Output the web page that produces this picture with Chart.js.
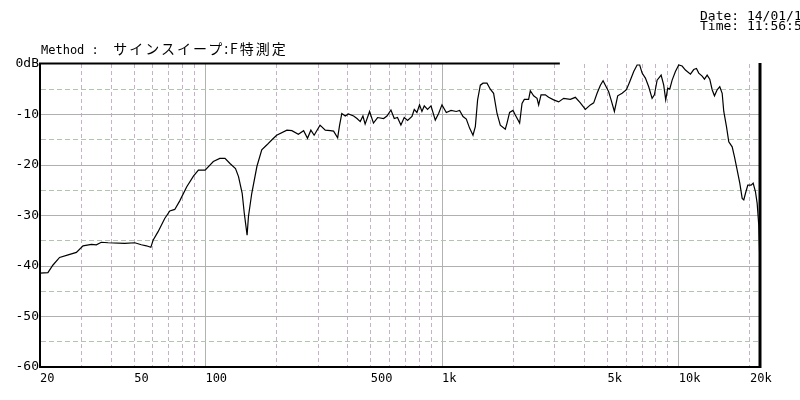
<!DOCTYPE html>
<html>
<head>
<meta charset="utf-8">
<script src="https://cdn.jsdelivr.net/npm/chart.js@4.4.1/dist/chart.umd.min.js"></script>
<style>
  html, body { margin: 0; padding: 0; background: #fff; }
  #wrap { position: relative; width: 800px; height: 400px; overflow: hidden; }
  #c { position: absolute; left: 0; top: 0; }
  .txt { position: absolute; white-space: pre; color: #000; font-family: 'DejaVu Sans Mono', monospace; }
  .cjk { font-family: 'Noto Sans CJK JP', sans-serif; font-size: 14px; letter-spacing: 2px; }
</style>
</head>
<body>
<div id="wrap">
  <canvas id="c" width="800" height="400"></canvas>
  <div class="txt" style="left:41px; top:38px; font-size:12px;">Method :  <span class="cjk">サインスイープ:F特測定</span></div>
  <div class="txt" style="left:700px; top:11px; font-size:13px; line-height:10px;">Date: 14/01/1
Time: 11:56:5</div>
</div>
<script>
// ---- data (frequency in Hz, level in dB) ----
const freqHz = [
  20, 21.6, 22.7, 24.2, 26.3, 28.5, 30.4, 33.0, 34.6, 36.3, 38.8, 45.6, 50.3, 53.6, 56.3, 58.8,
  60.1, 63.1, 67.3, 70.7, 74.2, 77.9, 83.4, 89.0, 93.4, 99.7, 108, 115, 121, 127, 134, 138,
  143, 146, 150, 152, 157, 165, 173, 182, 191, 200, 221, 232, 247, 260, 270, 279, 288, 305,
  321, 337, 348, 362, 369, 377, 390, 402, 423, 437, 451, 463, 473, 494, 513, 534, 566, 585,
  608, 628, 648, 670, 692, 715, 746, 763, 783, 803, 822, 841, 868, 898, 936, 967, 999, 1042,
  1091, 1148, 1186, 1226, 1266, 1307, 1351, 1382, 1413, 1451, 1489, 1548, 1599, 1651, 1707, 1762,
  1850, 1881, 1929, 1994, 2039, 2127, 2177, 2226, 2321, 2360, 2437, 2519, 2559, 2619, 2731, 2820,
  2961, 3109, 3264, 3484, 3657, 3840, 4031, 4232, 4372, 4518, 4666, 4790, 4898, 5058, 5178, 5347,
  5522, 5764, 6012, 6208, 6454, 6670, 6841, 7003, 7231, 7467, 7718, 7893, 8103, 8425, 8641, 8811,
  8985, 9162, 9379, 9684, 10000, 10337, 10674, 11208, 11574, 11882, 12151, 12560, 12844, 13186, 13524, 13844,
  14158, 14535, 14908, 15260, 15500, 15913, 16274, 16822, 17202, 17661, 18114, 18542, 18834, 19148, 19580, 20234,
  20632, 21099, 21451, 21788, 22050
];
const levelDb = [
  -41.4, -41.3, -39.8, -38.3, -37.8, -37.3, -36.0, -35.7, -35.8, -35.3, -35.4, -35.5, -35.4, -35.8, -36.0, -36.3,
  -34.9, -33.2, -30.6, -29.1, -28.8, -27.1, -24.3, -22.2, -21.0, -21.0, -19.3, -18.7, -18.7, -19.7, -20.7, -22.3,
  -25.6, -29.6, -33.9, -30.2, -25.6, -20.3, -17.0, -16.0, -15.0, -14.1, -13.1, -13.2, -13.9, -13.2, -14.7, -13.1, -14.1, -12.1,
  -13.1, -13.2, -13.3, -14.6, -12.1, -9.8, -10.3, -9.9, -10.3, -10.8, -11.4, -10.3, -11.9, -9.4, -11.7, -10.6, -10.8, -10.3,
  -9.1, -10.8, -10.6, -12.1, -10.6, -11.2, -10.4, -9.0, -9.6, -8.1, -9.4, -8.3, -9.0, -8.3, -11.1, -9.8, -8.1, -9.6,
  -9.2, -9.4, -9.2, -10.4, -10.9, -12.7, -14.1, -12.4, -7.1, -4.2, -3.8, -3.8, -5.0, -5.8, -9.8, -12.1,
  -12.9, -11.7, -9.6, -9.2, -10.1, -11.7, -7.8, -7.0, -7.0, -5.3, -6.3, -6.8, -8.1, -6.1, -6.1, -6.6,
  -7.1, -7.5, -6.8, -7.0, -6.6, -7.7, -9.0, -8.1, -7.7, -5.8, -4.2, -3.3, -4.2, -5.5, -7.1, -9.4,
  -6.3, -5.8, -5.1, -3.5, -1.5, -0.2, -0.2, -1.8, -2.8, -4.5, -6.8, -6.1, -3.2, -2.2, -4.2, -7.1,
  -4.8, -5.0, -3.2, -1.5, -0.2, -0.4, -1.2, -2.0, -1.1, -0.9, -1.8, -2.4, -3.0, -2.2, -3.0, -5.1,
  -6.3, -5.1, -4.5, -5.8, -9.4, -12.4, -15.4, -16.4, -18.4, -21.0, -23.6, -26.6, -26.9, -25.6, -24.0, -24.0,
  -23.6, -25.3, -27.6, -31.9, -40.1
];
const xTickValues = [20, 30, 40, 50, 60, 70, 80, 90, 100, 200, 300, 400, 500, 600, 700, 800, 900,
  1000, 2000, 3000, 4000, 5000, 6000, 7000, 8000, 9000, 10000, 20000];
const xLabelValues = [20, 50, 100, 500, 1000, 5000, 10000, 20000];
const xLabelTexts = ['20', '50', '100', '500', '1k', '5k', '10k', '20k'];
const xMajorGrid = [100, 1000, 10000];
const yLabelValues = [0, -10, -20, -30, -40, -50, -60];
const yLabelTexts = ['0dB', '-10', '-20', '-30', '-40', '-50', '-60'];
const xMin = 20, xMax = 22050, yMin = -60, yMax = 0;

const points = freqHz.map((f, i) => ({ x: f, y: levelDb[i] }));

const frame = {
  id: 'frame',
  afterDraw(chart) {
    const { ctx, chartArea: a } = chart;
    ctx.save();
    ctx.strokeStyle = '#000';
    // right border
    ctx.lineWidth = 3;
    ctx.beginPath();
    ctx.moveTo(a.right, a.top - 1);
    ctx.lineTo(a.right, a.bottom + 1);
    ctx.stroke();
    // partial top border
    ctx.lineWidth = 2;
    ctx.beginPath();
    ctx.moveTo(a.left - 1, a.top - 0.5);
    ctx.lineTo(a.left + (a.right - a.left) * 0.722, a.top - 0.5);
    ctx.stroke();
    ctx.restore();
  }
};

new Chart(document.getElementById('c'), {
  type: 'scatter',
  data: {
    datasets: [{
      data: points,
      showLine: true,
      borderColor: '#000',
      borderWidth: 1.2,
      pointRadius: 0,
      tension: 0
    }]
  },
  options: {
    responsive: false,
    devicePixelRatio: 1,
    animation: false,
    layout: { padding: { top: 64, right: 40, bottom: 0, left: 0 } },
    plugins: { legend: { display: false }, tooltip: { enabled: false }, title: { display: false } },
    scales: {
      x: {
        type: 'logarithmic',
        min: xMin,
        max: xMax,
        afterBuildTicks: (s) => { s.ticks = xTickValues.map(v => ({ value: v })); },
        afterFit: (s) => { s.height = 33; },
        ticks: {
          autoSkip: false,
          maxRotation: 0,
          minRotation: 0,
          align: 'start',
          padding: 5,
          color: '#000',
          font: { family: 'DejaVu Sans Mono', size: 12 },
          callback: (v) => {
            const i = xLabelValues.indexOf(v);
            return i >= 0 ? xLabelTexts[i] : '';
          }
        },
        grid: {
          drawTicks: false,
          lineWidth: 1,
          color: (ctx) => {
            const v = ctx.tick ? ctx.tick.value : null;
            if (v === xMin) return 'rgba(0,0,0,0)';
            return xMajorGrid.includes(v) ? '#b0b4b0' : '#c4b2c6';
          }
        },
        border: {
          display: true,
          color: '#000',
          width: 2,
          dash: (ctx) => {
            const v = ctx.tick ? ctx.tick.value : null;
            return xMajorGrid.includes(v) ? [] : [4, 3];
          }
        }
      },
      y: {
        type: 'linear',
        min: yMin,
        max: yMax,
        afterBuildTicks: (s) => {
          const t = [];
          for (let v = yMin; v <= yMax; v += 5) t.push({ value: v });
          s.ticks = t;
        },
        afterFit: (s) => { s.width = 40; },
        ticks: {
          autoSkip: false,
          padding: 1,
          color: '#000',
          font: { family: 'DejaVu Sans Mono', size: 13 },
          callback: (v) => {
            const i = yLabelValues.indexOf(v);
            return i >= 0 ? yLabelTexts[i] : '';
          }
        },
        grid: {
          drawTicks: false,
          lineWidth: 1,
          color: (ctx) => {
            const v = ctx.tick ? ctx.tick.value : null;
            if (v === yMax || v === yMin) return 'rgba(0,0,0,0)';
            return v % 10 === 0 ? '#b0b0b0' : '#b0c4b0';
          }
        },
        border: {
          display: true,
          color: '#000',
          width: 2,
          dash: (ctx) => {
            const v = ctx.tick ? ctx.tick.value : null;
            return (v % 10 === 0) ? [] : [5, 3];
          }
        }
      }
    }
  },
  plugins: [frame]
});
</script>
</body>
</html>
